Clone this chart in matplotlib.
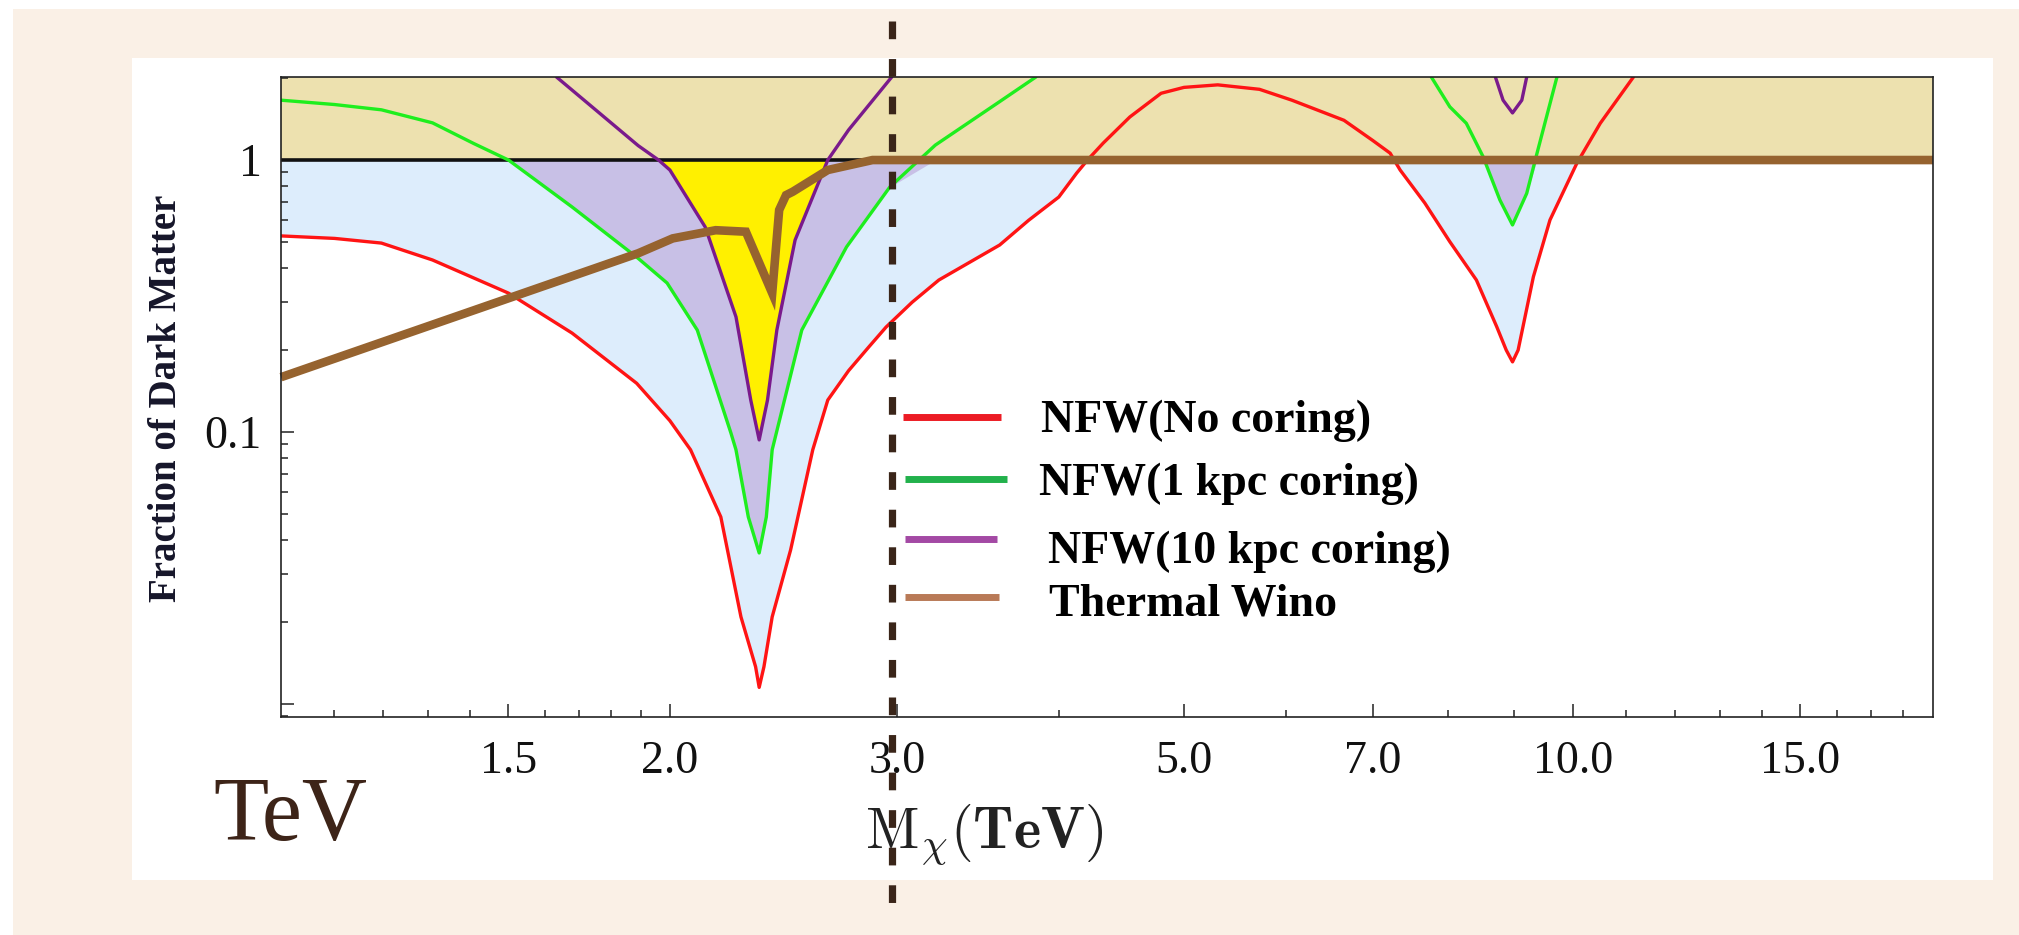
import numpy as np
import matplotlib
matplotlib.use("Agg")
import matplotlib.pyplot as plt
from matplotlib.lines import Line2D
from matplotlib.patches import Rectangle

# ---------------- data ----------------
red_x = [1.0, 1.1, 1.196, 1.31, 1.5, 1.68, 1.885, 2.0, 2.075, 2.19, 2.27, 2.33, 2.345,
         2.365, 2.40, 2.48, 2.58, 2.65, 2.75, 2.85, 2.94, 3.08, 3.23, 3.6, 3.79, 4.0,
         4.13, 4.21, 4.33, 4.54, 4.80, 5.0, 5.31, 5.72, 6.06, 6.65, 7.0, 7.22, 7.35,
         7.68, 8.03, 8.42, 8.73, 8.88, 8.98, 9.07, 9.32, 9.60, 10.07, 10.5, 11.14]
red_y = [0.526, 0.515, 0.495, 0.429, 0.324, 0.231, 0.151, 0.110, 0.086, 0.0487, 0.0209,
         0.0137, 0.0115, 0.0137, 0.0209, 0.0368, 0.086, 0.131, 0.168, 0.205, 0.243,
         0.300, 0.362, 0.487, 0.60, 0.731, 0.896, 1.0, 1.155, 1.44, 1.76, 1.85, 1.89,
         1.82, 1.66, 1.40, 1.18, 1.06, 0.919, 0.695, 0.501, 0.362, 0.244, 0.20, 0.181,
         0.20, 0.372, 0.602, 0.972, 1.365, 2.02]

green_x1 = [1.0, 1.1, 1.196, 1.31, 1.41, 1.5, 1.68, 1.89, 1.99, 2.10, 2.23, 2.25, 2.30,
            2.345, 2.375, 2.40, 2.53, 2.74, 2.96, 3.21, 3.6, 3.84]
green_y1 = [1.66, 1.60, 1.53, 1.37, 1.15, 1.0, 0.672, 0.435, 0.353, 0.237, 0.099,
            0.086, 0.0487, 0.0359, 0.0487, 0.086, 0.237, 0.479, 0.796, 1.135, 1.64,
            2.02]
green_x2 = [7.77, 8.03, 8.27, 8.52, 8.78, 8.98, 9.21, 9.38, 9.72]
green_y2 = [2.02, 1.57, 1.365, 1.03, 0.713, 0.577, 0.754, 1.058, 2.02]

purple_x1 = [1.634, 1.89, 1.96, 2.0, 2.13, 2.25, 2.31, 2.345, 2.38, 2.42, 2.50, 2.65,
             2.75, 2.97]
purple_y1 = [2.02, 1.13, 1.0, 0.919, 0.567, 0.265, 0.131, 0.0935, 0.131, 0.237,
             0.508, 1.0, 1.29, 2.02]
purple_x2 = [8.71, 8.83, 8.98, 9.13, 9.21]
purple_y2 = [2.02, 1.66, 1.49, 1.66, 2.02]

wino_x = [1.0, 1.89, 2.01, 2.17, 2.29, 2.40, 2.43, 2.46, 2.49, 2.65, 2.87, 19.0]
wino_y = [0.159, 0.454, 0.515, 0.552, 0.545, 0.324, 0.655, 0.743, 0.765, 0.919,
          1.0, 1.0]

xtick_vals = [1.5, 2.0, 3.0, 5.0, 7.0, 10.0, 15.0]
xtick_labels = ["1.5", "2.0", "3.0", "5.0", "7.0", "10.0", "15.0"]
xminor_vals = [1.1, 1.2, 1.3, 1.4, 1.6, 1.7, 1.8, 1.9, 4, 6, 8, 9, 11, 12, 13, 14,
               16, 17, 18]
ytick_vals = [0.01, 0.1, 1.0]
ytick_labels = ["", "0.1", "1"]

legend_labels = ["NFW(No coring)", "NFW(1 kpc coring)", "NFW(10 kpc coring)",
                 "Thermal Wino"]

# ---------------- figure ----------------
W, H = 2019, 935
fig = plt.figure(figsize=(W / 100, H / 100), dpi=100, facecolor="white")


def fx(px):
    return px / W


def fy(py):
    return 1 - py / H


# slide background and white panel
fig.add_artist(Rectangle((fx(13), 0), 1 - fx(13), fy(9), transform=fig.transFigure,
                         facecolor="#FAF0E6", edgecolor="none", zorder=-10))
fig.add_artist(Rectangle((fx(132), fy(880)), fx(1993) - fx(132), fy(58) - fy(880),
                         transform=fig.transFigure, facecolor="white",
                         edgecolor="none", zorder=-9))

ax = fig.add_axes([fx(281), fy(717), fx(1933) - fx(281), fy(77) - fy(717)])
ax.set_facecolor("white")
ax.set_xscale("log")
ax.set_yscale("log")
ax.set_xlim(1.0, 19.0)
ax.set_ylim(0.00895, 2.02)

c_blue = "#DDEDFC"
c_lav = "#C8C0E6"
c_yel = "#FFF000"
c_beige = "#EDE1AF"

# fills below 1
ax.fill_between(red_x, np.minimum(red_y, 1), 1, color=c_blue, lw=0, zorder=1)
ax.fill_between(green_x1, np.minimum(green_y1, 1), 1, color=c_lav, lw=0, zorder=1.1)
ax.fill_between(green_x2, np.minimum(green_y2, 1), 1, color=c_lav, lw=0, zorder=1.1)
ax.fill_between(purple_x1, np.minimum(purple_y1, 1), 1, color=c_yel, lw=0, zorder=1.2)
ax.axhspan(1.0, 10.0, color=c_beige, lw=0, zorder=1.3)
ax.axhline(1.0, color="#111111", lw=2.6, zorder=2)

lw_c = 2.4
kw = dict(lw=lw_c, solid_joinstyle="round", solid_capstyle="round")
ax.plot(red_x, red_y, color="#FF1414", zorder=3, **kw)
ax.plot(green_x1, green_y1, color="#1EEE1E", zorder=3, **kw)
ax.plot(green_x2, green_y2, color="#1EEE1E", zorder=3, **kw)
ax.plot(purple_x1, purple_y1, color="#7A1A8C", zorder=3.1, **kw)
ax.plot(purple_x2, purple_y2, color="#7A1A8C", zorder=3.1, **kw)
ax.plot(wino_x, wino_y, color="#96632F", lw=6.2, zorder=4, solid_joinstyle="miter",
        solid_capstyle="butt", clip_on=False)

# ticks
ax.set_xticks(xtick_vals)
ax.set_xticklabels(xtick_labels)
ax.set_xticks(xminor_vals, minor=True)
ax.set_xticklabels([], minor=True)
ax.set_yticks(ytick_vals)
ax.set_yticklabels(ytick_labels)
yminor = [m * 10.0 ** e for e in (-3, -2, -1, 0) for m in range(2, 10)]
yminor = [v for v in yminor if 0.00895 < v < 2.02]
ax.set_yticks(yminor, minor=True)
ax.set_yticklabels([], minor=True)

ax.tick_params(axis="both", which="both", direction="in", top=False, right=False,
               color="#222222", width=1.1)
ax.tick_params(axis="both", which="major", length=9.5)
ax.tick_params(axis="both", which="minor", length=5)
ax.tick_params(axis="x", which="major", pad=17)
ax.tick_params(axis="y", which="major", pad=14)
for lab in ax.get_xticklabels() + ax.get_yticklabels():
    lab.set_fontfamily("Liberation Serif")
    lab.set_fontsize(33)
    lab.set_color("#111111")
for sp in ax.spines.values():
    sp.set_linewidth(1.2)
    sp.set_color("#222222")
    sp.set_zorder(5)

# axis labels (as placed texts)
fig.text(fx(166), fy(398), "Fraction of Dark Matter", rotation=90,
         ha="center", va="center", family="Liberation Serif", weight="bold",
         size=28, color="#16162A")
plt.rcParams["mathtext.fontset"] = "cm"
fig.text(fx(984), fy(848), r"$\mathrm{M}_{\chi}(\mathbf{TeV})$", ha="center",
         va="baseline", size=42, color="#222222")
fig.text(fx(213), fy(840), "TeV", ha="left", va="baseline",
         family="Liberation Serif", size=65, color="#3D2418")

# legend (manual)
leg_colors = ["#EC1C24", "#22B14C", "#A349A4", "#B97A57"]
leg_line_y = [417, 479, 539, 597]
leg_line_x = [(903, 1001), (905, 1007), (905, 997), (905, 999)]
leg_text_x = [1041, 1039, 1048, 1049]
leg_text_base = [432, 495, 563, 615]
for c, ly, (x0, x1), tx, tb, lab in zip(leg_colors, leg_line_y, leg_line_x,
                                         leg_text_x, leg_text_base, legend_labels):
    fig.add_artist(Line2D([fx(x0), fx(x1)], [fy(ly), fy(ly)], color=c, lw=5.0,
                          transform=fig.transFigure, solid_capstyle="butt",
                          zorder=20))
    fig.text(fx(tx), fy(tb), lab, ha="left", va="baseline",
             family="Liberation Serif", weight="bold", size=33, color="black",
             zorder=21)

# vertical dashed marker line of the slide
fig.add_artist(Line2D([fx(892), fx(892)], [fy(21), fy(920)], color="#3A2519",
                      lw=5.2, dashes=(2.45, 2.75), transform=fig.transFigure,
                      solid_capstyle="butt", dash_capstyle="butt", zorder=30))

fig.savefig("out.png", dpi=100, facecolor="white")
